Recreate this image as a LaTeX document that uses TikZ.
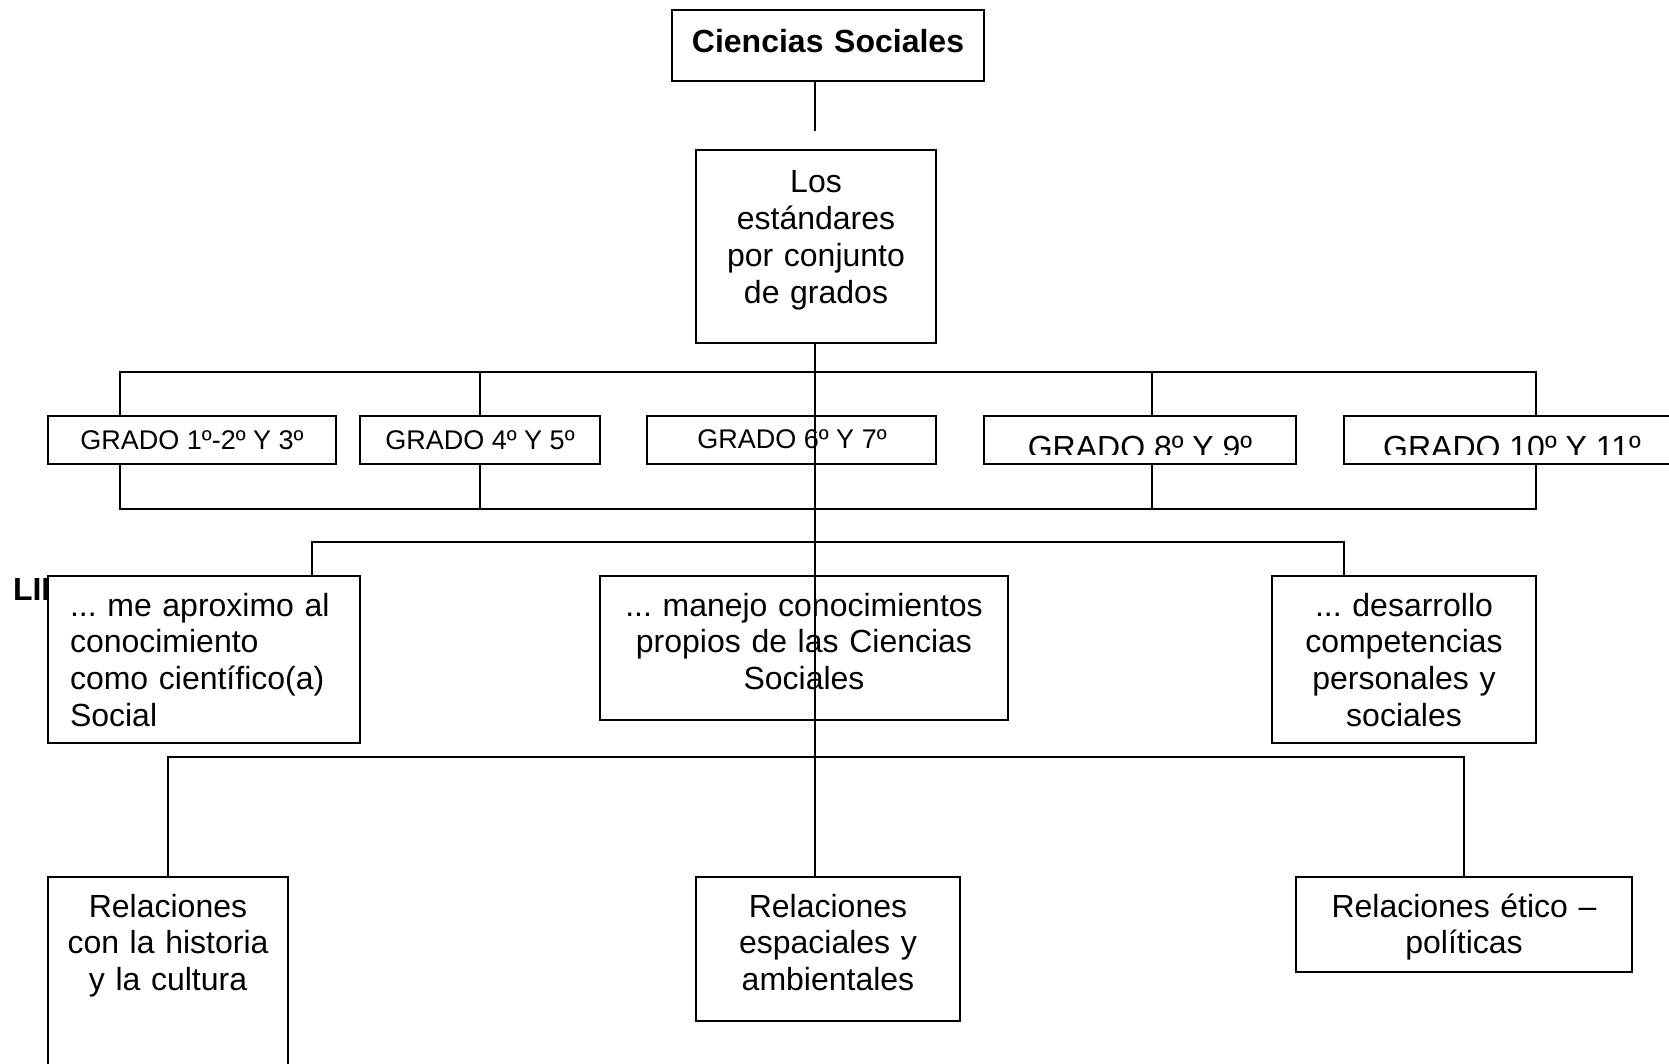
\documentclass[tikz,border=0pt]{standalone}
\usepackage{fontspec}
\setmainfont{Liberation Sans}
\usetikzlibrary{fit}

\begin{document}
\begin{tikzpicture}[x=0.5pt, y=-0.5pt, line width=1pt,
    caja/.style={draw, fill=white, inner sep=0pt},
    texto/.style={inner sep=0pt, anchor=north, align=center,
      font=\fontsize{16}{18.4}\selectfont,
      execute at begin node={\rule{0pt}{17pt}}},
    grado/.style={inner sep=0pt, anchor=base, font=\fontsize{13.5}{16}\selectfont},
    gradogrande/.style={grado, font=\fontsize{16}{18.4}\selectfont}]

    \useasboundingbox (0,0) rectangle (1669,1064);

    \clip (0,0) rectangle (1669,1064);


    \node[anchor=base west, inner sep=0pt, font=\fontsize{16}{18.4}\selectfont\bfseries] (lin) at (12,600) {LIN};


    \node[caja, fit={(672,10) (984,81)}] (cs) {};

    \node[caja, fit={(696,150) (936,343)}] (est) {};

    \node[caja, fit={(48,416) (336,464)}] (g1) {};

    \node[caja, fit={(360,416) (600,464)}] (g2) {};

    \node[caja, fit={(647,416) (936,464)}] (g3) {};

    \node[caja, fit={(984,416) (1296,464)}] (g4) {};

    \node[caja, fit={(1344,416) (1679,464)}] (g5) {};

    \node[caja, fit={(48,576) (360,743)}] (la) {};

    \node[caja, fit={(600,576) (1008,720)}] (lb) {};

    \node[caja, fit={(1272,576) (1536,743)}] (lc) {};

    \node[caja, fit={(48,877) (288,1100)}] (ra) {};

    \node[caja, fit={(696,877) (960,1021)}] (rb) {};

    \node[caja, fit={(1296,877) (1632,972)}] (rc) {};


    \node[texto, text width=156pt] (cs-t) at (828,18) {\bfseries Ciencias Sociales};

    \node[texto, text width=120pt] (est-t) at (816,158) {Los\\estándares\\por conjunto\\de grados};

    \node[grado] (g1-t) at (192,449) {GRADO 1º-2º Y 3º};

    \node[grado] (g2-t) at (480,449) {GRADO 4º Y 5º};

    \node[grado] (g3-t) at (792,448) {GRADO 6º Y 7º};

    \begin{scope}
      \clip (984,416) rectangle (1669,454);
      \node[gradogrande] (g4-t) at (1140,458) {GRADO 8º Y 9º};
      \node[gradogrande] (g5-t) at (1512,458) {GRADO 10º Y 11º};
    \end{scope}

    \node[texto, anchor=north west, align=left, text width=145pt] (la-t) at (69,581) {...\ me aproximo al\\conocimiento\\como científico(a)\\Social};

    \node[texto, text width=204pt] (lb-t) at (804,581) {...\ manejo conocimientos\\propios de las Ciencias\\Sociales};

    \node[texto, text width=132pt] (lc-t) at (1404,581) {...\ desarrollo\\competencias\\personales y\\sociales};

    \node[texto, text width=120pt] (ra-t) at (168,882) {Relaciones\\con la historia\\y la cultura};

    \node[texto, text width=132pt] (rb-t) at (828,882) {Relaciones\\espaciales y\\ambientales};

    \node[texto, text width=168pt] (rc-t) at (1464,882) {Relaciones ético –\\políticas};


    \coordinate (eje) at (815,131);

    \coordinate (b1) at (120,372);

    \coordinate (b4) at (1152,372);

    \coordinate (b5) at (1536,372);

    \coordinate (d1) at (120,509);

    \coordinate (d5) at (1536,509);

    \coordinate (e1) at (312,542);

    \coordinate (e3) at (1344,542);

    \coordinate (f1) at (168,757);

    \coordinate (f3) at (1464,757);


    \draw (eje |- cs.south) -- (eje);

    \draw (b1 |- g1.north) -- (b1) -- (b5) -- (b5 |- g5.north);

    \draw (g2.north) -- (g2.north |- b1);

    \draw (b4) -- (b4 |- g4.north);

    \draw (b1 |- g1.south) -- (d1) -- (d5) -- (b5 |- g5.south);

    \draw (g2.south) -- (g2.south |- d1);

    \draw (b4 |- g4.south) -- (b4 |- d1);

    \draw (e1 |- la.north) -- (e1) -- (e3) -- (e3 |- lc.north);

    \draw (ra.north) -- (f1) -- (f3) -- (rc.north);

    \draw (eje |- est.south) -- (eje |- rb.north);

\end{tikzpicture}
\end{document}
